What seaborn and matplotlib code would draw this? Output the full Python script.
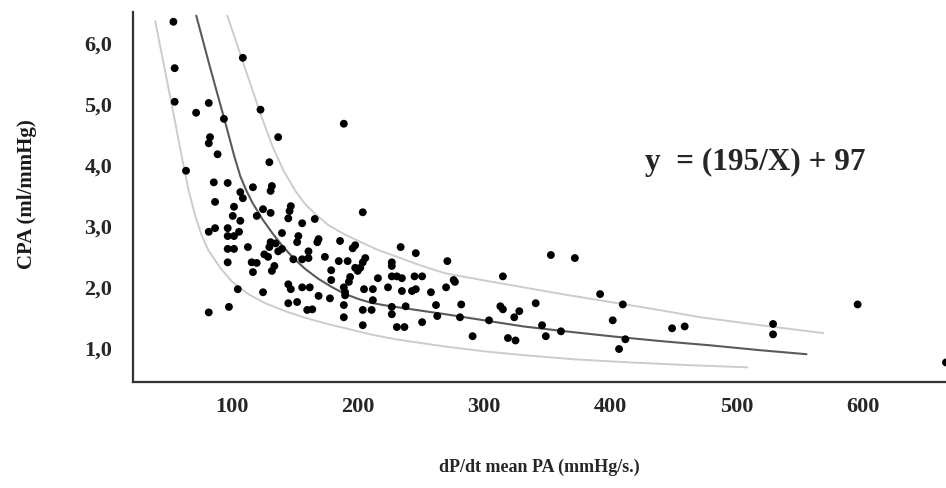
import matplotlib
matplotlib.use("Agg")
import matplotlib.pyplot as plt
import seaborn as sns
import pandas as pd

# scatter: dP/dt mean PA vs CPA
dpdt = [54, 55, 55, 82, 72, 94, 109, 123, 83, 82, 89, 137, 130, 64,
        86, 97, 117, 132, 131, 107, 109, 87, 102, 125, 131, 120, 147, 146, 145, 101,
        107, 82, 87, 97, 106, 140, 97, 102, 131, 135, 97, 102, 113, 130, 140, 137,
        126, 129, 149, 97, 116, 120, 134, 132, 117, 145, 147, 105, 125, 145, 82, 98,
        156, 166, 153, 152, 169, 168, 186, 198, 196, 161, 156, 161, 174, 185, 192, 206,
        204, 234, 246, 227, 227, 198, 202, 200, 179, 179, 194, 193, 216, 227, 231, 235,
        245, 251, 156, 162, 189, 190, 205, 212, 224, 235, 243, 246, 258, 190, 169, 178,
        212, 152, 160, 164, 189, 204, 211, 227, 238, 227, 262, 263, 189, 204, 231, 237, 251,
        271, 353, 372, 315, 276, 277, 270, 392, 341, 282, 313, 315, 328, 324, 281, 304,
        346, 361, 291, 319, 325, 349,
        410, 402, 412, 407, 449, 459, 529, 529, 596, 666,
        189, 204]
cpa = [6.33, 5.57, 5.02, 5.00, 4.84, 4.74, 5.74, 4.89, 4.44, 4.34, 4.16, 4.44, 4.03, 3.89,
       3.70, 3.69, 3.62, 3.64, 3.56, 3.54, 3.44, 3.38, 3.30, 3.26, 3.20, 3.15, 3.31, 3.23, 3.11, 3.15,
       3.07, 2.89, 2.95, 2.95, 2.89, 2.87, 2.82, 2.82, 2.72, 2.70, 2.61, 2.61, 2.64, 2.64, 2.61, 2.57,
       2.52, 2.48, 2.44, 2.39, 2.39, 2.38, 2.33, 2.25, 2.23, 2.03, 1.95, 1.95, 1.90, 1.72, 1.57, 1.66,
       3.03, 3.10, 2.82, 2.72, 2.77, 2.72, 2.74, 2.67, 2.62, 2.57, 2.44, 2.46, 2.48, 2.41, 2.41, 2.46,
       2.39, 2.64, 2.54, 2.39, 2.33, 2.30, 2.30, 2.25, 2.26, 2.10, 2.15, 2.07, 2.13, 2.16, 2.16, 2.13,
       2.16, 2.16, 1.98, 1.98, 1.98, 1.90, 1.95, 1.95, 1.98, 1.92, 1.92, 1.95, 1.90, 1.85, 1.84, 1.80,
       1.77, 1.74, 1.61, 1.62, 1.69, 1.61, 1.61, 1.66, 1.67, 1.54, 1.69, 1.51, 1.49, 1.36, 1.33, 1.33, 1.41,
       2.41, 2.51, 2.46, 2.16, 2.10, 2.07, 1.98, 1.87, 1.72, 1.70, 1.67, 1.62, 1.59, 1.49, 1.49, 1.44,
       1.36, 1.26, 1.18, 1.15, 1.11, 1.18,
       1.70, 1.44, 1.13, 0.97, 1.31, 1.34, 1.38, 1.21, 1.70, 0.75,
       4.66, 3.21]

# fitted curve and its band
fit_x = [72.1, 83.2, 94.3, 102.2, 107.0, 111.7, 116.5, 124.4, 132.3, 140.3, 149.0, 158.5,
         168.8, 179.9, 190.2, 200.5, 210.0, 220.3, 229.8, 249.6, 269.4, 297.1, 331.2,
         364.5, 400.2, 439.8, 479.4, 519.0, 555.5]
fit_y = [6.43, 5.57, 4.74, 4.13, 3.80, 3.57, 3.37, 3.10, 2.87, 2.66, 2.46, 2.28,
         2.12, 1.98, 1.87, 1.79, 1.73, 1.69, 1.66, 1.60, 1.54, 1.45, 1.34,
         1.26, 1.18, 1.10, 1.03, 0.95, 0.885]
upper_x = [96.7, 110.9, 124.4, 132.3, 141.0, 150.6, 158.5, 166.4, 176.7, 190.2, 203.6,
           216.3, 229.8, 249.6, 269.4, 301.1, 331.2, 364.5, 400.2, 435.8, 471.5, 519.0, 568.9]
upper_y = [6.43, 5.56, 4.74, 4.30, 3.90, 3.56, 3.34, 3.18, 3.00, 2.84, 2.71,
           2.59, 2.49, 2.34, 2.21, 2.09, 1.98, 1.86, 1.74, 1.62, 1.49, 1.36, 1.23]
lower_x = [39.6, 46.0, 53.1, 59.4, 65.8, 71.3, 76.1, 81.6, 91.1, 100.6, 113.3, 126.8,
           142.6, 158.5, 174.3, 190.2, 210.0, 229.8, 249.6, 269.4, 301.1, 331.2, 372.4,
           416.0, 463.5, 508.7]
lower_y = [6.34, 5.67, 4.93, 4.25, 3.59, 3.15, 2.85, 2.59, 2.30, 2.07, 1.87, 1.72,
           1.59, 1.48, 1.39, 1.31, 1.21, 1.13, 1.07, 1.01, 0.93, 0.87, 0.80,
           0.75, 0.705, 0.67]

x_ticks = [100, 200, 300, 400, 500, 600]
y_ticks = [1, 2, 3, 4, 5, 6]
y_ticklabels = ["1,0", "2,0", "3,0", "4,0", "5,0", "6,0"]

sns.set_style("white")
plt.rcParams['font.family'] = ['Liberation Serif', 'DejaVu Serif']
plt.rcParams['font.weight'] = 'bold'

fig = plt.figure(figsize=(9.46, 4.89), dpi=100)
ax = fig.add_axes([0.1406, 0.2168, 0.8594, 0.7566])

df = pd.DataFrame({"dpdt": dpdt, "cpa": cpa})
sns.lineplot(x=lower_x, y=lower_y, ax=ax, color="#cccccc", linewidth=1.4, sort=False)
sns.lineplot(x=upper_x, y=upper_y, ax=ax, color="#cccccc", linewidth=1.4, sort=False)
sns.lineplot(x=fit_x, y=fit_y, ax=ax, color="#5a5a5a", linewidth=1.5, sort=False)
sns.scatterplot(data=df, x="dpdt", y="cpa", ax=ax, color="black", s=32,
                edgecolor="none", zorder=3)

ax.set_xlim(22, 666)
ax.set_ylim(0.43, 6.49)
ax.set_xticks(x_ticks)
ax.set_xticklabels([str(v) for v in x_ticks])
ax.set_yticks(y_ticks)
ax.set_yticklabels(y_ticklabels)
ax.tick_params(axis='both', length=0, labelsize=16)
ax.tick_params(axis='y', pad=15)
ax.tick_params(axis='x', pad=10)
for lbl in ax.get_xticklabels() + ax.get_yticklabels():
    lbl.set_fontweight('bold')

for side in ['top', 'right']:
    ax.spines[side].set_visible(False)
for side in ['left', 'bottom']:
    ax.spines[side].set_color('#333333')
    ax.spines[side].set_linewidth(1.6)

ax.set_xlabel("dP/dt mean PA (mmHg/s.)", fontsize=13, fontweight='bold', va='top')
ax.set_ylabel("CPA (ml/mmHg)", fontsize=15, fontweight='bold', color='#1a1a1a')
ax.xaxis.set_label_coords(0.5, -0.205)
ax.yaxis.set_label_coords(-0.118, 0.51)

ax.text(0.63, 0.597, "y  = (195/X) + 97", transform=ax.transAxes,
        fontsize=22.5, fontweight='bold', ha='left', va='center')

fig.savefig("out.png", dpi=100)
